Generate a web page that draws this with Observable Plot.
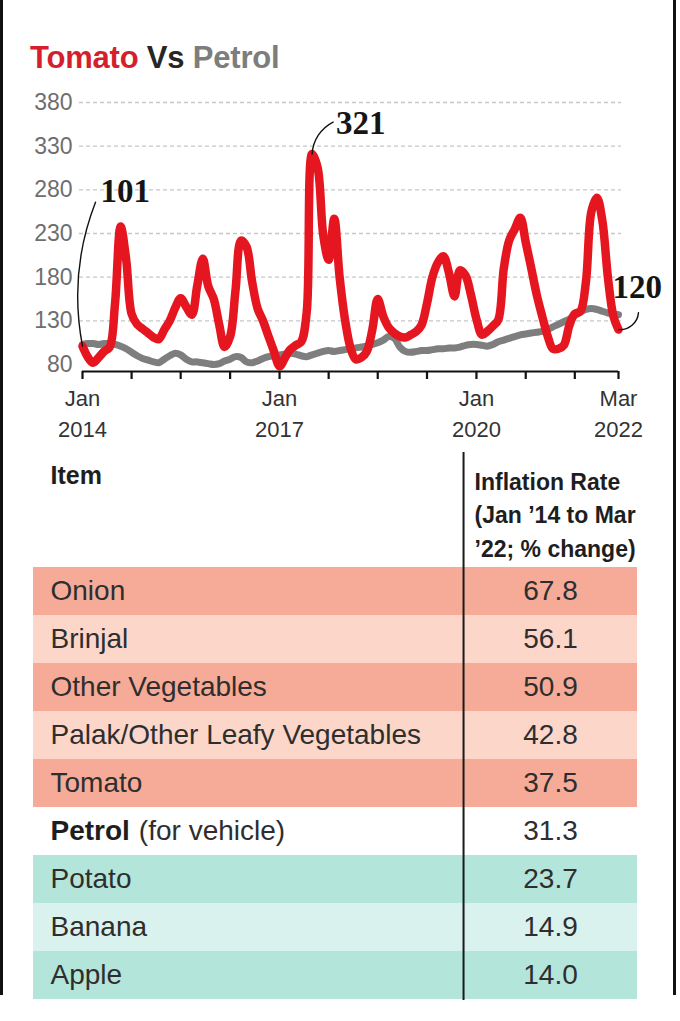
<!DOCTYPE html>
<html>
<head>
<meta charset="utf-8">
<script src="https://cdn.jsdelivr.net/npm/d3@7"></script>
<script src="https://cdn.jsdelivr.net/npm/@observablehq/plot@0.6"></script>
<style>
html, body { margin: 0; padding: 0; background: #fff; }
#wrap { position: relative; width: 680px; height: 1021px; overflow: hidden; font-family: "Liberation Sans", Arial, sans-serif; }
#frame { position: absolute; left: 0; top: 0; width: 670px; height: 995px; border-left: 3px solid #111; border-right: 3px solid #111; }
#title { position: absolute; left: 30px; top: 42px; font-size: 31px; font-weight: bold; line-height: 1; letter-spacing: -0.2px; white-space: nowrap; }
#chart { position: absolute; left: 0; top: 80px; }
#table { position: absolute; left: 0; top: 445px; }
</style>
</head>
<body>
<div id="wrap">
  <div id="frame"></div>
  <div id="title"><span style="color:#d61f2c">Tomato</span> <span style="color:#262626">Vs</span> <span style="color:#7d7d7d">Petrol</span></div>
  <div id="chart"></div>
  <div id="table"></div>
</div>
<script>
// ---------- chart data (monthly index, Jan 2014 .. Mar 2022) ----------
const startYear = 2014, startMonth = 0;
const tomatoValues = [
  101, 88, 82, 88, 95, 100, 150, 238, 200, 138,
  126, 121, 116, 111, 109, 120, 130, 145, 156, 146,
  137, 170, 201, 170, 155, 125, 100, 112, 165, 222,
  215, 175, 144, 130, 112, 95, 78, 88, 97, 102,
  106, 140, 321, 305, 228, 200, 247, 180, 130, 98,
  86, 88, 95, 120, 155, 135, 122, 116, 112, 111,
  114, 118, 125, 150, 180, 197, 204, 185, 158, 188,
  182, 160, 132, 114, 118, 124, 131, 190, 222, 235,
  248, 220, 190, 160, 135, 112, 98, 98, 102, 125,
  138, 141, 175, 255, 271, 245, 180, 135, 120
];
const petrolValues = [
  103, 104, 104, 103, 104, 104, 103, 101, 98, 94,
  90, 87, 85, 83, 82, 86, 90, 93, 91, 86,
  83, 83, 82, 81, 80, 81, 84, 86, 89, 88,
  83, 82, 84, 87, 89, 90, 91, 92, 93, 92,
  90, 89, 91, 93, 95, 96, 95, 96, 97, 98,
  99, 100, 101, 103, 105, 108, 112, 110, 100, 95,
  94, 95, 96, 96, 97, 98, 98, 99, 99, 100,
  102, 103, 103, 102, 101, 103, 106, 108, 110, 112,
  114, 115, 116, 117, 118, 120, 123, 126, 129, 132,
  136, 140, 143, 144, 143, 141, 139, 138, 137
];
const yTicks = [80, 130, 180, 230, 280, 330, 380];
const xTickMonths = ["2014-01", "2014-10", "2015-07", "2016-04", "2017-01", "2017-10", "2018-07", "2019-04", "2020-01", "2020-10", "2021-07", "2022-03"];
const xLabelMonths = ["2014-01", "2017-01", "2020-01", "2022-03"];
const annotationMonths = ["2014-01", "2017-07", "2022-03"];
const annotationValues = [101, 321, 120];
const annotationLabels = ["101", "321", "120"];

// ---------- table data ----------
const items = ["Onion", "Brinjal", "Other Vegetables", "Palak/Other Leafy Vegetables", "Tomato", "Petrol", "Potato", "Banana", "Apple"];
const itemNotes = ["", "", "", "", "", "(for vehicle)", "", "", ""];
const rates = [67.8, 56.1, 50.9, 42.8, 37.5, 31.3, 23.7, 14.9, 14.0];
const headerItem = "Item";
const headerRate = "Inflation Rate\n(Jan \u201914 to Mar\n\u201922; % change)";

// ---------- build chart ----------
const parseMonth = s => { const [y, m] = s.split("-").map(Number); return new Date(Date.UTC(y, m - 1, 1)); };
const months = tomatoValues.map((_, i) => new Date(Date.UTC(startYear, startMonth + i, 1)));
const tomato = months.map((date, i) => ({date, value: tomatoValues[i]}));
const petrol = months.map((date, i) => ({date, value: petrolValues[i]}));

const W = 680, H = 360, mT = 22, mB = 69, mL = 82, mR = 62;
const xDomain = [months[0], months[months.length - 1]];
const yDomain = [72, 380];
const xs = d3.scaleUtc().domain(xDomain).range([mL, W - mR]);
const ys = d3.scaleLinear().domain(yDomain).range([H - mB, mT]);

// layout offsets (pixels) for annotation connectors and labels
const connectorOffsets = [[13, -144], [21, -32], [20, -17]];
const labelOffsets = [[18, -155], [24, -31], [-6, -42]];
const bends = [16, 30, -45];

const annots = annotationLabels.map((label, i) => {
  const date = parseMonth(annotationMonths[i]), value = annotationValues[i];
  const px = xs(date), py = ys(value);
  return {
    date, value, label, bend: bends[i],
    x2: xs.invert(px + connectorOffsets[i][0]), y2: ys.invert(py + connectorOffsets[i][1]),
    lx: xs.invert(px + labelOffsets[i][0]), ly: ys.invert(py + labelOffsets[i][1])
  };
});

const fmtLabel = d => d3.utcFormat("%b")(d) + "\n" + d3.utcFormat("%Y")(d);

const chart = Plot.plot({
  width: W, height: H,
  marginTop: mT, marginBottom: mB, marginLeft: mL, marginRight: mR,
  x: {type: "utc", domain: xDomain},
  y: {domain: yDomain},
  style: {fontFamily: "'Liberation Sans', Arial, sans-serif", background: "transparent", overflow: "visible"},
  marks: [
    Plot.ruleY(yTicks.filter(d => d > yTicks[0]), {stroke: "#c6c6c6", strokeWidth: 1.3, strokeDasharray: "4,3", insetLeft: -3, insetRight: -3}),
    Plot.axisY({ticks: yTicks, tickSize: 0, tickPadding: 10, fontSize: 23, color: "#6e6e6e", label: null}),
    Plot.line(petrol, {x: "date", y: "value", curve: "catmull-rom", stroke: "#7e7e7e", strokeWidth: 7, strokeLinejoin: "round", strokeLinecap: "round"}),
    Plot.line(tomato, {x: "date", y: "value", curve: "catmull-rom", stroke: "#e5161f", strokeWidth: 8.5, strokeLinejoin: "round", strokeLinecap: "round"}),
    Plot.ruleY([yDomain[0]], {stroke: "#111", strokeWidth: 2.2}),
    Plot.axisX({ticks: xTickMonths.map(parseMonth), tickSize: 8, tickFormat: () => "", stroke: "#111", strokeWidth: 2.2, label: null}),
    Plot.text(xLabelMonths.map(parseMonth), {x: d => d, text: fmtLabel, frameAnchor: "bottom", dy: 12, lineAnchor: "top", lineHeight: 1.41, fontSize: 22, fill: "#333", textAnchor: "middle"}),
    ...annots.map(a => Plot.arrow([a], {x1: "date", y1: "value", x2: "x2", y2: "y2", bend: a.bend, headLength: 0, stroke: "#111", strokeWidth: 1.4})),
    Plot.text(annots, {x: "lx", y: "ly", text: "label", textAnchor: "start", lineAnchor: "middle", fontSize: 33, fontWeight: "bold", fontFamily: "'Liberation Serif', 'Times New Roman', serif", fill: "#151515"})
  ]
});
document.getElementById("chart").append(chart);

// ---------- build table ----------
const petrolRate = rates[items.indexOf("Petrol")];
const counters = {up: 0, down: 0, ref: 0};
const rows = items.map((item, i) => {
  const group = rates[i] > petrolRate ? "up" : rates[i] < petrolRate ? "down" : "ref";
  const shade = counters[group]++ % 2;
  return {item, note: itemNotes[i], rate: rates[i], group, shade};
});
const palette = {up: ["#f5ab97", "#fbd6c9"], down: ["#b3e5da", "#d9f2ed"], ref: ["#ffffff", "#ffffff"]};

const TW = 680, TH = 576, tmT = 120, tmB = 21, tmL = 33, tmR = 43;
const dividerX = 0.712, valueX = 0.856;
const ctx = document.createElement("canvas").getContext("2d");
ctx.font = "bold 28px 'Liberation Sans', Arial, sans-serif";
const boldWidth = s => ctx.measureText(s).width;

const table = Plot.plot({
  width: TW, height: TH,
  marginTop: tmT, marginBottom: tmB, marginLeft: tmL, marginRight: tmR,
  x: {domain: [0, 1], axis: null},
  y: {domain: items, padding: 0, axis: null},
  style: {fontFamily: "'Liberation Sans', Arial, sans-serif", background: "transparent", overflow: "visible"},
  marks: [
    Plot.barX(rows, {y: "item", x1: 0, x2: 1, fill: d => palette[d.group][d.shade]}),
    Plot.ruleX([dividerX], {stroke: "#1a1a1a", strokeWidth: 2, insetTop: -113}),
    Plot.text(rows.filter(d => !d.note), {y: "item", x: 0, dx: 17, text: "item", textAnchor: "start", fontSize: 28, fill: "#2e2e2e"}),
    Plot.text(rows.filter(d => d.note), {y: "item", x: 0, dx: 17, text: "item", textAnchor: "start", fontSize: 28, fontWeight: "bold", fill: "#1e1e1e"}),
    ...rows.filter(d => d.note).map(d => Plot.text([d], {y: "item", x: 0, dx: 17 + boldWidth(d.item) + 9, text: "note", textAnchor: "start", fontSize: 28, fill: "#2e2e2e"})),
    Plot.text(rows, {y: "item", x: valueX, text: d => d.rate.toFixed(1), textAnchor: "middle", fontSize: 28, fill: "#2e2e2e"}),
    Plot.text([headerItem], {x: 0, dx: 17, frameAnchor: "top", dy: -90, lineAnchor: "middle", textAnchor: "start", fontSize: 25, fontWeight: "bold", fill: "#1e1e1e"}),
    Plot.text([headerRate], {x: dividerX, dx: 11, frameAnchor: "top", dy: -53, lineAnchor: "middle", textAnchor: "start", lineHeight: 1.45, fontSize: 23, fontWeight: "bold", fill: "#1e1e1e"})
  ]
});
document.getElementById("table").append(table);
</script>
</body>
</html>
